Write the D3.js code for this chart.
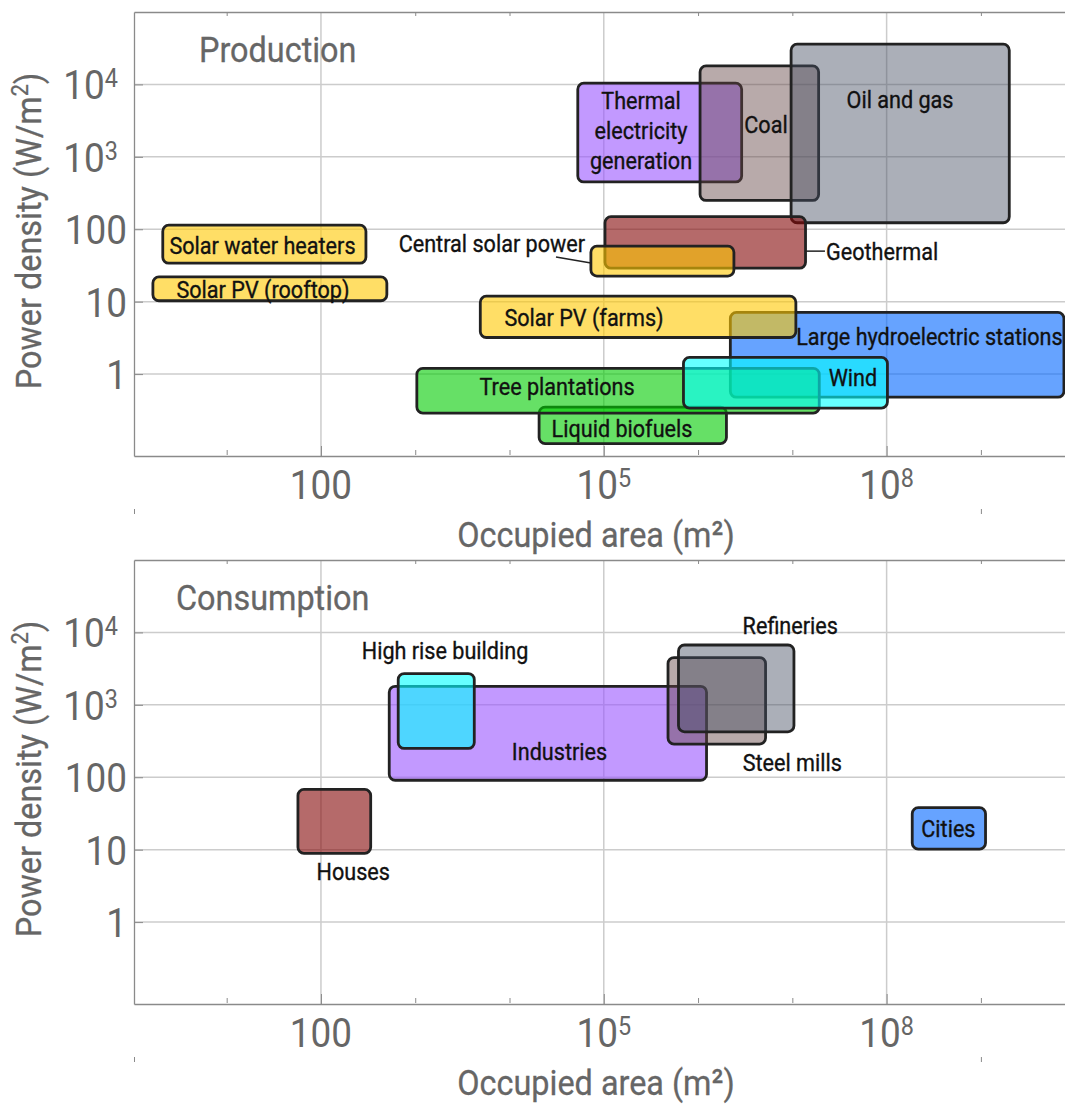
<!DOCTYPE html>
<html>
<head>
<meta charset="utf-8">
<script src="https://cdn.jsdelivr.net/npm/d3@7/dist/d3.min.js"></script>
<style>
  html, body { margin: 0; padding: 0; background: #fff; }
  svg { display: block; }
  text { font-family: Roboto, "Noto Sans", sans-serif; }
</style>
</head>
<body>
<svg id="chart" width="1065" height="1104"></svg>
<script>
// ---------- Axes: ranges, ticks, tick labels ----------
const areaDomain = [1.04, 7.8e9];          // m²
const densityDomain = [0.074, 1e5];        // W/m²
const areaMajorTicks = [100, 1e5, 1e8];
const areaMajorLabels = ["100", "10^5", "10^8"];
const areaMinorTicks = [10, 1e3, 1e4, 1e6, 1e7, 1e9];
const areaFrameTicks = [10, 1e3, 1e4, 1e6, 1e7, 1e9];
const areaOuterTicks = [1.04, 1e9];
const densityTicks = [1, 10, 100, 1e3, 1e4];
const densityLabels = ["1", "10", "100", "10^3", "10^4"];

// ---------- Production (drawn in this order) ----------
const productionNames = [
  "Solar water heaters", "Solar PV (rooftop)", "Thermal electricity generation",
  "Coal", "Oil and gas", "Geothermal", "Central solar power",
  "Large hydroelectric stations", "Solar PV (farms)", "Liquid biofuels",
  "Tree plantations", "Wind"
];
const productionAreaMin    = [2.1, 1.65, 5.3e4, 1.05e6, 9.7e6, 1.03e5, 7.3e4, 2.2e6, 4.9e3, 2.06e4, 1.04e3, 7.0e5];
const productionAreaMax    = [300, 500, 2.9e6, 1.9e7, 2.0e9, 1.38e7, 2.4e6, 7.6e9, 1.09e7, 2.0e6, 1.93e7, 1.02e8];
const productionDensityMin = [34, 10.3, 450, 250, 123, 29, 22.6, 0.48, 3.2, 0.11, 0.29, 0.34];
const productionDensityMax = [114, 22, 1.04e4, 1.8e4, 3.6e4, 149, 58.5, 7.1, 11.9, 0.35, 1.2, 1.7];
const productionKinds = [
  "solar", "solar", "thermal", "coal", "oil", "geothermal", "solar",
  "hydro", "solar", "biomass", "biomass", "wind"
];

// ---------- Consumption (drawn in this order) ----------
const consumptionNames = ["Houses", "Industries", "High rise building", "Steel mills", "Refineries", "Cities"];
const consumptionAreaMin    = [57, 530, 660, 4.8e5, 6.2e5, 1.87e8];
const consumptionAreaMax    = [337, 1.23e6, 4230, 5.2e6, 1.04e7, 1.12e9];
const consumptionDensityMin = [8.9, 91, 250, 287, 424, 10.2];
const consumptionDensityMax = [68, 1800, 2700, 4500, 6700, 38];
const consumptionKinds = ["geothermal", "thermal", "wind", "coal", "oil", "hydro"];

// ---------- Styling ----------
const kindStyle = {
  solar:      { fill: "rgb(255,200,0)",   opacity: 0.6 },
  thermal:    { fill: "rgb(153,85,255)",  opacity: 0.6 },
  coal:       { fill: "rgb(98,66,66)",    opacity: 0.45 },
  oil:        { fill: "rgb(69,78,98)",    opacity: 0.45 },
  geothermal: { fill: "rgb(132,7,7)",     opacity: 0.6 },
  hydro:      { fill: "rgb(0,102,255)",   opacity: 0.6 },
  wind:       { fill: "rgb(0,255,255)",   opacity: 0.6 },
  biomass:    { fill: "rgb(0,204,0)",     opacity: 0.6 }
};

// Label anchors, in log10 units of (area, density), per box
const productionLabelLayout = [
  { at: [1.38, 1.777] },
  { at: [1.385, 1.174] },
  { at: [5.395, 3.37], wrap: true },
  { at: [6.72, 3.452] },
  { at: [8.142, 3.797] },
  { at: [7.357, 1.689], anchor: "start", leader: [[7.142, 1.698], [7.346, 1.698]] },
  { at: [4.801, 1.805], anchor: "end", leader: [[4.493, 1.616], [4.864, 1.533]] },
  { at: [8.454, 0.525] },
  { at: [4.79, 0.787] },
  { at: [5.193, -0.746] },
  { at: [4.504, -0.166] },
  { at: [7.643, -0.041] }
];
const consumptionLabelLayout = [
  { at: [2.343, 0.704] },
  { at: [4.53, 2.361] },
  { at: [3.316, 3.756] },
  { at: [7.0, 2.205] },
  { at: [6.978, 4.101] },
  { at: [8.655, 1.298] }
];

const SX = 0.9;              // horizontal condensing of the text face
const LABEL_SIZE = 24;
const TITLE_SIZE = 36;
const TICK_SIZE = 41;
const SUP_SIZE = 26;
const GREY = "#666";

const svg = d3.select("#chart");
const left = 134, right = 1065;
const x = d3.scaleLog().domain(areaDomain).range([left, right]);

function condensed(sel, px, py, str, size, anchor, fill, weight) {
  return sel.append("text")
    .attr("transform", `translate(${px},${py}) scale(${SX},1)`)
    .attr("text-anchor", anchor)
    .attr("font-size", size)
    .attr("fill", fill)
    .attr("stroke", fill)
    .attr("stroke-width", weight)
    .text(str);
}

function powerText(textSel, label) {
  const [base, exp] = label.split("^");
  textSel.append("tspan").text(base);
  if (exp) textSel.append("tspan").attr("font-size", SUP_SIZE).attr("dy", -12).text(exp);
}

function drawPanel(p) {
  const g = svg.append("g");
  const y = d3.scaleLog().domain(densityDomain).range([p.bottom, p.top]);

  // grid
  g.append("g").selectAll("line").data(areaMajorTicks).join("line")
    .attr("x1", d => x(d)).attr("x2", d => x(d))
    .attr("y1", p.top).attr("y2", p.bottom)
    .attr("stroke", "#cccccc").attr("stroke-width", 1.5);
  g.append("g").selectAll("line").data(densityTicks).join("line")
    .attr("x1", left).attr("x2", right)
    .attr("y1", d => y(d)).attr("y2", d => y(d))
    .attr("stroke", "#cccccc").attr("stroke-width", 1.5);

  // frame: top edge with short inward ticks
  const topAxis = d3.axisTop(x).tickValues(areaFrameTicks).tickFormat("").tickSizeInner(-4).tickSizeOuter(0);
  g.append("g").attr("transform", `translate(0,${p.top})`).call(topAxis)
    .attr("color", "#8a8a8a").call(s => s.select(".domain").attr("stroke-width", 1.3));

  // bottom axis: major and minor ticks
  const bottomMajor = d3.axisBottom(x).tickValues(areaMajorTicks).tickFormat("").tickSizeInner(-10).tickSizeOuter(0);
  g.append("g").attr("transform", `translate(0,${p.bottom})`).call(bottomMajor)
    .attr("color", "#8a8a8a").call(s => s.select(".domain").attr("stroke-width", 1.3));
  const bottomMinor = d3.axisBottom(x).tickValues(areaMinorTicks).tickFormat("").tickSizeInner(-5).tickSizeOuter(0);
  g.append("g").attr("transform", `translate(0,${p.bottom - 1})`).call(bottomMinor)
    .attr("color", "#8a8a8a").call(s => s.select(".domain").remove());
  const outer = d3.axisBottom(x).tickValues(areaOuterTicks).tickFormat("").tickSizeInner(5).tickSizeOuter(0);
  g.append("g").attr("transform", `translate(0,${p.bottom + 53})`).call(outer)
    .attr("color", "#8a8a8a").call(s => s.select(".domain").remove());

  // left axis
  const leftAxis = d3.axisLeft(y).tickValues(densityTicks).tickFormat("").tickSizeInner(-9).tickSizeOuter(0);
  g.append("g").attr("transform", `translate(${left},0)`).call(leftAxis)
    .attr("color", "#8a8a8a").call(s => s.select(".domain").attr("stroke-width", 1.3));

  // tick labels
  areaMajorTicks.forEach((v, i) => {
    const t = g.append("text")
      .attr("transform", `translate(${x(v)},${p.bottom + 43}) scale(${SX},1)`)
      .attr("text-anchor", "middle").attr("font-size", TICK_SIZE).attr("fill", GREY);
    powerText(t, areaMajorLabels[i]);
  });
  densityTicks.forEach((v, i) => {
    const lab = densityLabels[i];
    const shift = lab.includes("^") ? 9 : 0;
    const t = g.append("text")
      .attr("transform", `translate(${left - 7 - shift},${y(v) + 15}) scale(${SX},1)`)
      .attr("text-anchor", "end").attr("font-size", TICK_SIZE).attr("fill", GREY);
    powerText(t, lab);
  });

  // axis titles
  condensed(g, 596, p.bottom + 91, "Occupied area (m²)", TITLE_SIZE, "middle", GREY, 0.3);
  const yt = g.append("text")
    .attr("transform", `translate(41,${(p.top + p.bottom) / 2 - 3}) rotate(-90) scale(${SX},1)`)
    .attr("text-anchor", "middle").attr("font-size", TITLE_SIZE).attr("fill", GREY)
    .attr("stroke", GREY).attr("stroke-width", 0.3);
  yt.append("tspan").text("Power density (W/m");
  yt.append("tspan").attr("font-size", 24).attr("dy", -13).text("2");
  yt.append("tspan").attr("dy", 13).text(")");

  // panel title
  condensed(g, p.titleX, p.top + 50, p.title, TITLE_SIZE, "start", GREY, 0.3);

  // boxes
  const rows = p.names.map((name, i) => ({
    name, kind: p.kinds[i],
    x0: p.areaMin[i], x1: p.areaMax[i], y0: p.densMin[i], y1: p.densMax[i],
    layout: p.layout[i]
  }));
  g.append("g").selectAll("rect").data(rows).join("rect")
    .attr("x", d => x(d.x0))
    .attr("y", d => y(d.y1))
    .attr("width", d => x(d.x1) - x(d.x0))
    .attr("height", d => y(d.y0) - y(d.y1))
    .attr("rx", 6).attr("ry", 6)
    .attr("fill", d => kindStyle[d.kind].fill)
    .attr("fill-opacity", d => kindStyle[d.kind].opacity)
    .attr("stroke", "#222").attr("stroke-width", 2.8);

  // leader lines and labels
  const lg = g.append("g");
  rows.forEach(d => {
    const L = d.layout;
    if (L.leader) {
      lg.append("line")
        .attr("x1", x(10 ** L.leader[0][0])).attr("y1", y(10 ** L.leader[0][1]))
        .attr("x2", x(10 ** L.leader[1][0])).attr("y2", y(10 ** L.leader[1][1]))
        .attr("stroke", "#222").attr("stroke-width", 1.5);
    }
    const cx = x(10 ** L.at[0]), cy = y(10 ** L.at[1]);
    const anchor = L.anchor || "middle";
    const lines = L.wrap ? d.name.split(" ") : [d.name];
    const lh = 30;
    lines.forEach((s, k) => {
      const off = (k - (lines.length - 1) / 2) * lh;
      condensed(lg, cx, cy + off + 8.5, s, LABEL_SIZE, anchor, "#111", 0.35);
    });
  });
}

drawPanel({
  top: 12, bottom: 456, title: "Production", titleX: 199,
  names: productionNames, kinds: productionKinds,
  areaMin: productionAreaMin, areaMax: productionAreaMax,
  densMin: productionDensityMin, densMax: productionDensityMax,
  layout: productionLabelLayout
});
drawPanel({
  top: 560, bottom: 1004, title: "Consumption", titleX: 176,
  names: consumptionNames, kinds: consumptionKinds,
  areaMin: consumptionAreaMin, areaMax: consumptionAreaMax,
  densMin: consumptionDensityMin, densMax: consumptionDensityMax,
  layout: consumptionLabelLayout
});
</script>
</body>
</html>
